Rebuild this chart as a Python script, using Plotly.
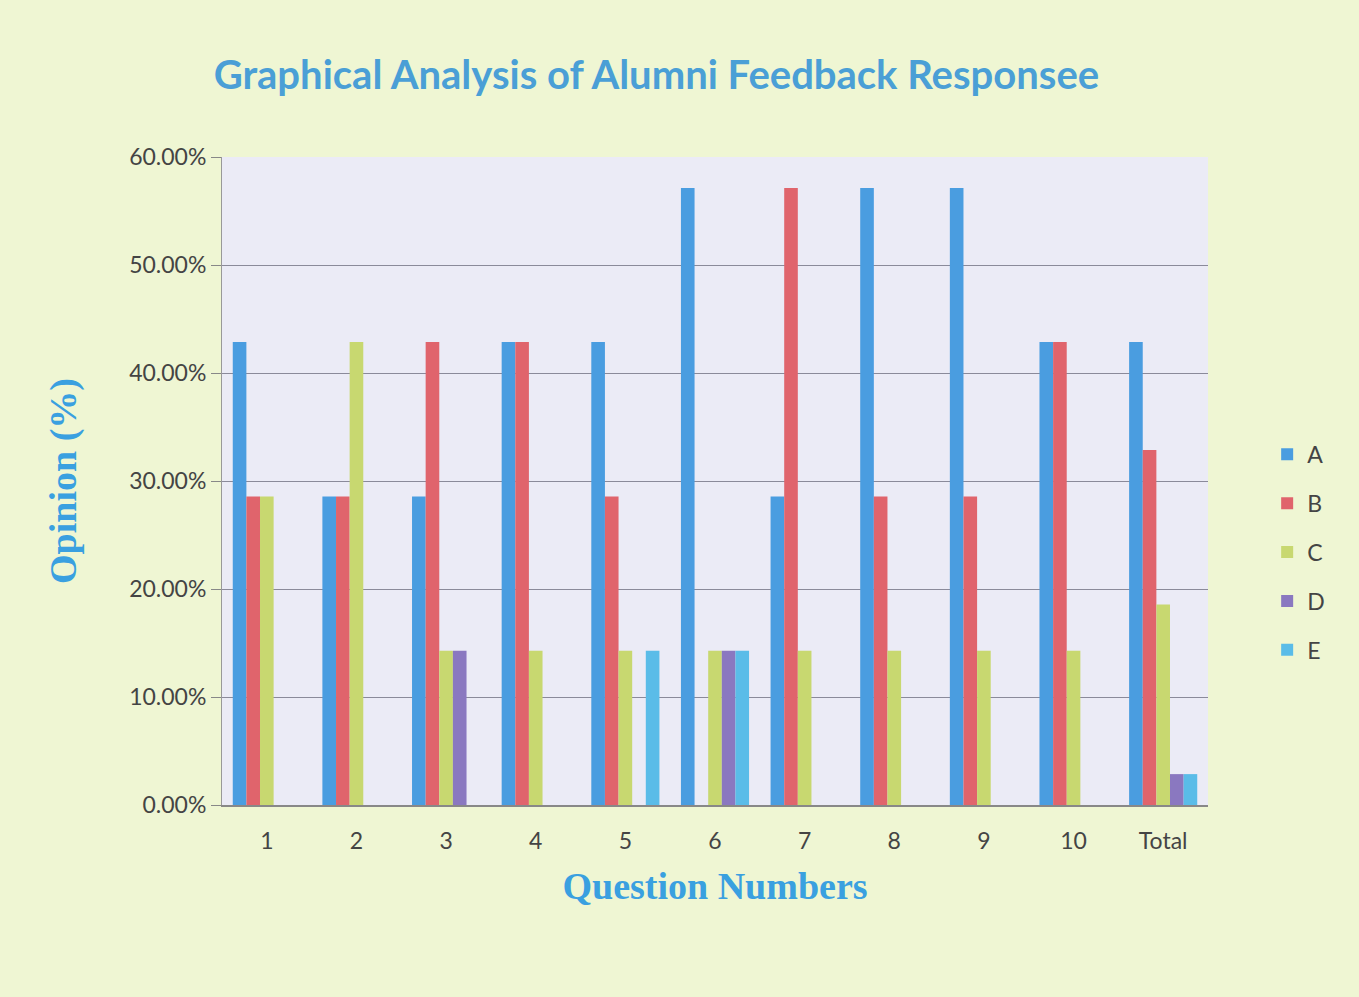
import plotly.graph_objects as go

questions = ["1", "2", "3", "4", "5", "6", "7", "8", "9", "10", "Total"]
opt_A = [42.86, 28.57, 28.57, 42.86, 42.86, 57.14, 28.57, 57.14, 57.14, 42.86, 42.86]
opt_B = [28.57, 28.57, 42.86, 42.86, 28.57, 0.00, 57.14, 28.57, 28.57, 42.86, 32.86]
opt_C = [28.57, 42.86, 14.29, 14.29, 14.29, 14.29, 14.29, 14.29, 14.29, 14.29, 18.57]
opt_D = [0.00, 0.00, 14.29, 0.00, 0.00, 14.29, 0.00, 0.00, 0.00, 0.00, 2.86]
opt_E = [0.00, 0.00, 0.00, 0.00, 14.29, 14.29, 0.00, 0.00, 0.00, 0.00, 2.86]

series = [("A", opt_A, "#4a9de0"), ("B", opt_B, "#e0646c"), ("C", opt_C, "#c8d870"),
          ("D", opt_D, "#8a78c0"), ("E", opt_E, "#5abce8")]

fig = go.Figure()
for name, vals, col in series:
    fig.add_trace(go.Bar(x=questions, y=[v / 100 for v in vals], name=name,
                         marker=dict(color=col, line=dict(width=0)),
                         legendgroup=name))

fig.update_layout(
    width=1359, height=997,
    paper_bgcolor="#eff6d3",
    plot_bgcolor="#ebebf6",
    margin=dict(l=222, r=151, t=157, b=192),
    barmode="group", bargap=0.24, bargroupgap=0,
    title=dict(text="Graphical Analysis of Alumni Feedback Responsee",
               x=0.483, xanchor="center", y=0.925, yanchor="middle",
               font=dict(family="Lato", size=40, color="#4a9fd6", weight="bold")),
    font=dict(family="Lato", color="#555555", size=22),
    legend=dict(x=1.06, xanchor="left", y=0.39, yanchor="middle",
                font=dict(size=23, color="#444444"), tracegroupgap=16,
                bgcolor="rgba(0,0,0,0)"),
    xaxis=dict(title=dict(text="Question Numbers",
                          font=dict(family="Liberation Serif", size=38, color="#3aa0e0", weight="bold"),
                          standoff=20),
               showline=True, linecolor="#888888", linewidth=2, ticks="",
               ticklabelstandoff=14,
               tickfont=dict(size=23, color="#444444")),
    yaxis=dict(title=dict(text="Opinion (%)",
                          font=dict(family="Liberation Serif", size=38, color="#3aa0e0", weight="bold"),
                          standoff=40),
               range=[0, 0.6], dtick=0.1, tickformat=".2%",
               showgrid=True, gridcolor="#8a8a9a", gridwidth=1,
               showline=True, linecolor="#999999", linewidth=1,
               ticks="outside", ticklen=10, tickcolor="#888888",
               zeroline=False,
               tickfont=dict(size=23, color="#444444")),
)

fig.write_html("out.html", config={"displayModeBar": False},
               post_script="document.body.style.margin='0';window.dispatchEvent(new Event('resize'));")
